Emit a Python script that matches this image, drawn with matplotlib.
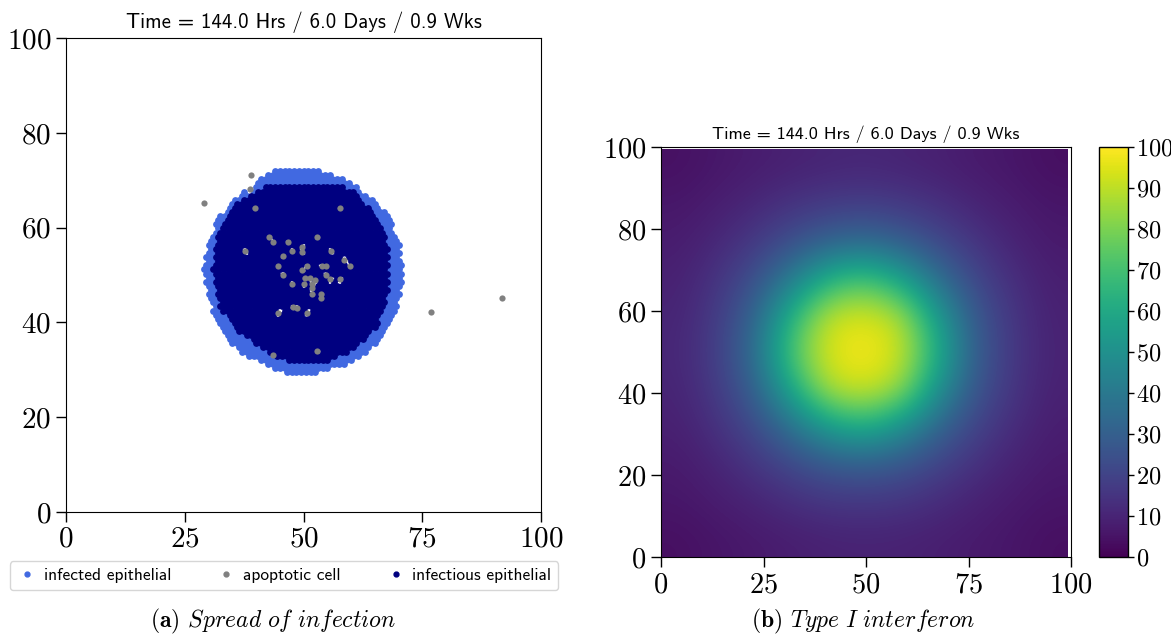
import numpy as np
import matplotlib
matplotlib.use("Agg")
import matplotlib.pyplot as plt
from matplotlib.path import Path
from matplotlib.lines import Line2D

plt.rcParams['mathtext.fontset'] = 'cm'
plt.rcParams['font.family'] = 'cmr10'
plt.rcParams['axes.formatter.use_mathtext'] = True

# ---------------- data ----------------
title_text = 'Time = 144.0 Hrs / 6.0 Days / 0.9 Wks'
legend_labels = ['infected epithelial', 'apoptotic cell', 'infectious epithelial']
caption_a = r'$\mathbf{(a)}$ $\mathit{Spread\ of\ infection}$'
caption_b = r'$\mathbf{(b)}$ $\mathit{Type\ I\ interferon}$'

# outer boundary of infected region (cell centres)
infected_outline_x = [43.8, 52.6, 58.8, 64.3, 67.7, 70.1, 70.8, 70.4, 69.1, 66.4, 63.6, 58.8,
                      52.7, 45.8, 40.4, 35.6, 32.2, 29.9, 29.2, 28.2, 29.2, 29.9, 31.5, 35.6, 41.1]
infected_outline_y = [72.2, 72.2, 70.2, 66.1, 62.7, 57.2, 51.0, 46.3, 41.5, 36.7, 33.9, 31.2,
                      29.5, 29.5, 31.9, 34.6, 39.4, 44.9, 50.4, 51.5, 52.2, 56.6, 61.3, 66.1, 70.6]
# boundary of infectious core (cell centres)
infectious_outline_x = [42.4, 55.4, 60.2, 64.3, 67.0, 68.0, 68.0, 67.0, 65.0, 60.9, 55.4, 47.3,
                        41.8, 36.3, 32.2, 30.9, 31.6, 34.3, 37.0, 41.8]
infectious_outline_y = [69.1, 69.1, 68.1, 63.3, 59.2, 53.1, 47.6, 42.8, 38.8, 34.7, 32.0, 31.6,
                        34.0, 38.2, 43.5, 51.0, 57.9, 63.3, 66.1, 68.9]

apoptotic_x = [29.1, 38.9, 76.8, 91.8, 38.7, 39.8, 57.7, 42.7, 43.6, 46.7, 52.8, 37.7, 47.5, 49.7,
               49.7, 55.7, 45.7, 58.6, 59.8, 44.7, 50.7, 53.8, 54.7, 49.6, 45.7, 54.7, 55.6, 57.7,
               50.3, 51.4, 52.4, 50.0, 51.7, 47.5, 51.7, 51.7, 53.6, 53.6, 47.7, 48.7, 44.7, 50.7,
               43.6, 52.8]
apoptotic_y = [65.2, 71.2, 42.2, 45.1, 68.1, 64.1, 64.1, 58.1, 57.0, 57.0, 58.1, 55.1, 55.1, 56.0,
               54.9, 55.1, 54.0, 53.2, 51.9, 52.0, 52.0, 52.0, 52.0, 51.1, 50.0, 50.0, 49.1, 49.1,
               49.3, 49.3, 48.9, 48.2, 48.2, 48.1, 47.2, 46.1, 46.1, 45.1, 43.3, 43.1, 42.0, 42.0,
               33.1, 34.0]

# interferon field sampled on an 11 x 11 grid (rows bottom -> top)
interferon = np.array([
    [4.0, 5.6, 6.8, 8.1, 9.2, 9.6, 9.3, 8.4, 7.0, 5.8, 4.0],
    [5.9, 7.7, 10.0, 13.2, 15.5, 16.2, 15.2, 12.5, 9.4, 7.1, 5.6],
    [7.1, 10.2, 15.2, 21.0, 27.0, 29.0, 26.0, 19.7, 14.0, 9.4, 6.9],
    [8.8, 13.8, 21.7, 36.0, 54.0, 62.0, 50.0, 32.0, 19.7, 12.5, 8.1],
    [10.0, 16.7, 29.3, 58.0, 88.0, 93.0, 84.0, 50.0, 26.0, 15.2, 9.2],
    [10.8, 18.2, 34.3, 72.0, 95.0, 100.0, 93.0, 62.0, 29.0, 16.2, 9.6],
    [10.2, 17.1, 31.0, 63.0, 91.0, 95.0, 88.0, 54.0, 27.0, 15.5, 9.3],
    [9.1, 14.7, 23.6, 41.0, 63.0, 72.0, 58.0, 36.0, 21.0, 13.2, 8.4],
    [7.7, 11.1, 16.4, 23.6, 31.0, 34.3, 29.3, 21.7, 15.2, 10.0, 7.0],
    [6.2, 8.2, 11.1, 14.7, 17.1, 18.2, 16.7, 13.8, 10.2, 7.7, 5.8],
    [4.3, 6.2, 7.7, 9.1, 10.2, 10.8, 10.0, 8.8, 7.1, 5.9, 4.0],
])

x_ticks = [0, 25, 50, 75, 100]
y_ticks = [0, 20, 40, 60, 80, 100]
cbar_ticks = list(range(0, 101, 10))

c_infected = '#4169E1'
c_apoptotic = '#808080'
c_infectious = '#000080'

# ---------------- figure ----------------
fig = plt.figure(figsize=(11.71, 6.36), dpi=100)

# ---- left panel ----
axL = fig.add_axes([0.0564, 0.195, 0.4056, 0.745])
# hexagonal cell lattice
ii, jj = np.meshgrid(np.arange(0, 61), np.arange(0, 71))
gx = 20 + ii + 0.5 * (jj % 2)
gy = 20 + jj * 0.866
pts = np.column_stack([gx.ravel(), gy.ravel()])
outer = Path(np.column_stack([infected_outline_x, infected_outline_y]))
inner = Path(np.column_stack([infectious_outline_x, infectious_outline_y]))
in_outer = outer.contains_points(pts)
in_inner = inner.contains_points(pts)
ax_ = np.array(apoptotic_x)
ay_ = np.array(apoptotic_y)
d = np.min(np.hypot(pts[:, 0:1] - ax_[None, :], pts[:, 1:2] - ay_[None, :]), axis=1)
free = d > 0.6
inf_pts = pts[in_outer & ~in_inner & free]
core_pts = pts[in_inner & free]

s = 24
axL.scatter(inf_pts[:, 0], inf_pts[:, 1], s=s, c=c_infected, linewidths=0, zorder=2)
axL.scatter(core_pts[:, 0], core_pts[:, 1], s=s, c=c_infectious, linewidths=0, zorder=3)
axL.scatter(apoptotic_x, apoptotic_y, s=20, c=c_apoptotic, linewidths=0, zorder=4)
axL.set_xlim(0, 100)
axL.set_ylim(0, 100)
axL.set_xticks(x_ticks)
axL.set_yticks(y_ticks)
axL.tick_params(labelsize=21, length=7, width=1)
axL.set_title(title_text, fontsize=15, pad=7, fontfamily='cmss10')

handles = [Line2D([], [], marker='o', ls='', color=c, markersize=3.5)
           for c in (c_infected, c_apoptotic, c_infectious)]
fig.legend(handles, legend_labels, loc='lower left',
           bbox_to_anchor=(0.0085, 0.072, 0.468, 0.048), mode='expand', ncol=3,
           prop={'family': 'cmss10', 'size': 12.5}, frameon=True, fancybox=True,
           borderaxespad=0, handletextpad=0.35, handlelength=1.2)

# ---- right panel ----
axR = fig.add_axes([0.5645, 0.124, 0.3501, 0.6447])
im = axR.imshow(interferon, origin='lower', extent=(0, 99.2, 0, 99.5), cmap='viridis',
                vmin=0, vmax=100, interpolation='bicubic', aspect='auto')
axR.set_xlim(0, 100)
axR.set_ylim(0, 100)
axR.set_xticks(x_ticks)
axR.set_yticks(y_ticks)
axR.tick_params(labelsize=20.5, length=7, width=1)
axR.set_title(title_text, fontsize=13, pad=6, fontfamily='cmss10')

cax = fig.add_axes([0.9385, 0.124, 0.0248, 0.6447])
cb = fig.colorbar(im, cax=cax, ticks=cbar_ticks)
cb.ax.tick_params(labelsize=17.5, length=4, width=1, pad=1.5)
cb.outline.set_linewidth(1)

# ---- captions ----
fig.text(0.233, 0.013, caption_a, fontsize=17, ha='center')
fig.text(0.737, 0.013, caption_b, fontsize=17, ha='center')

fig.savefig('out.png', dpi=100)
